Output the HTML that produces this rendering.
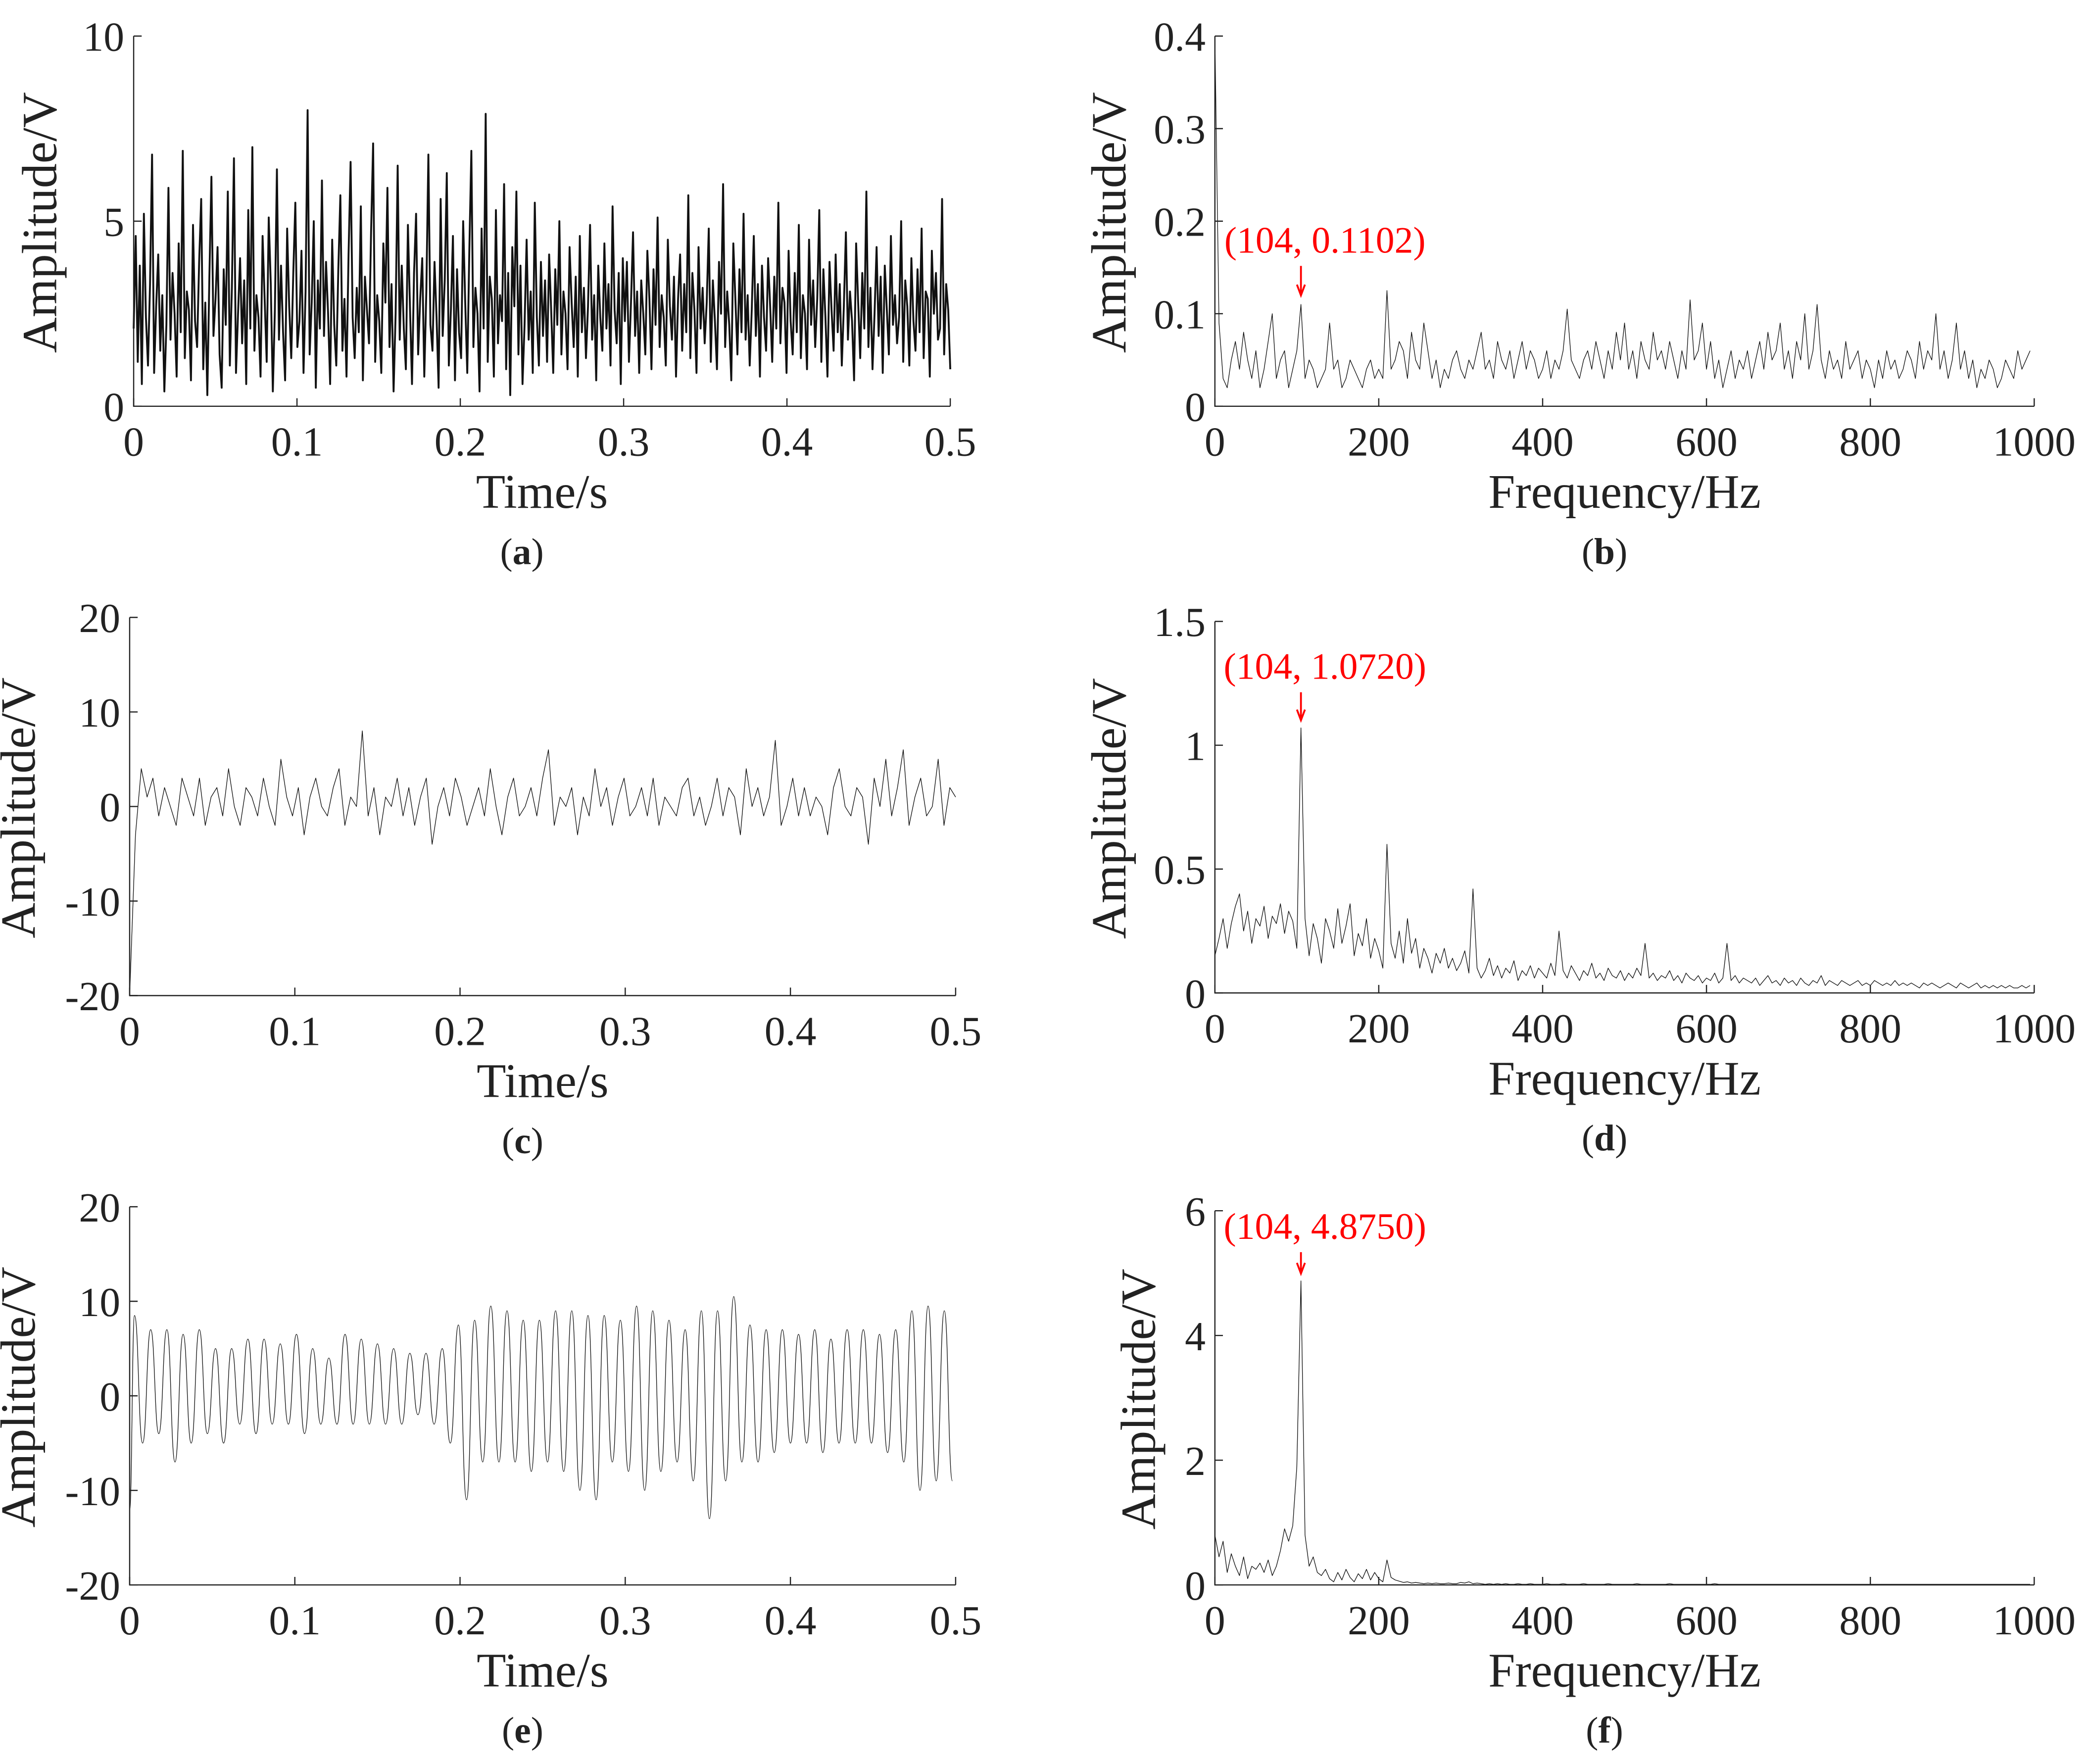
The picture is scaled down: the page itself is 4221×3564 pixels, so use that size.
<!DOCTYPE html>
<html><head><meta charset="utf-8"><style>
html,body{margin:0;padding:0;background:#fff;}
svg{display:block;}
text{font-family:"Liberation Serif",serif;fill:#222;}
</style></head><body>
<svg id="fig" xmlns="http://www.w3.org/2000/svg" width="4221" height="3564" viewBox="0 0 1563 1320" preserveAspectRatio="none"></svg>
<script>
const sigA = [2.1,4.6,1.2,3.8,0.6,5.2,2.4,1.1,3.3,6.8,0.9,2.7,4.1,1.5,3.0,0.4,2.2,5.9,1.8,3.6,
2.5,0.8,4.4,2.0,6.9,1.3,3.1,2.6,0.7,4.9,2.3,1.6,3.9,5.6,1.0,2.8,0.3,3.5,6.2,1.9,
2.9,4.3,1.4,0.5,3.7,2.2,5.8,1.1,3.2,6.7,0.9,2.5,4.0,1.7,3.4,0.6,5.3,2.1,7.0,1.5,
3.0,2.4,0.8,4.6,2.9,1.2,5.1,3.3,0.4,2.6,6.4,1.8,3.8,2.0,0.7,4.8,2.7,1.3,3.6,5.5,
1.6,2.3,4.2,0.9,3.1,8.0,1.4,2.8,5.0,0.5,3.4,2.1,6.1,1.9,3.9,2.5,0.6,4.5,2.2,1.1,
3.7,5.7,1.5,2.9,0.8,4.1,6.6,2.4,1.3,3.2,2.0,5.4,0.7,3.5,2.6,1.7,4.7,7.1,1.2,3.0,
2.3,0.9,4.4,2.8,5.9,1.6,3.3,0.4,2.5,6.5,1.8,3.8,2.1,1.0,4.9,2.7,0.6,3.6,5.2,1.4,
2.9,4.0,0.8,3.1,6.8,2.2,1.5,3.9,2.4,0.5,5.6,1.9,3.4,6.3,1.1,2.6,4.6,0.7,3.7,2.0,
1.3,5.0,2.8,0.9,4.2,6.9,1.6,3.2,2.5,0.4,4.8,2.1,7.9,1.2,3.5,2.9,0.8,5.3,1.7,3.0,
2.3,6.0,1.0,3.6,0.3,4.3,2.7,5.8,1.4,3.8,0.6,2.2,4.5,1.8,3.1,0.9,5.5,2.4,1.1,3.9,
1.9,3.4,1.2,4.1,2.6,0.9,3.7,2.2,5.0,1.4,3.1,2.5,1.0,4.3,2.8,1.6,3.5,0.8,4.6,2.0,
3.2,1.3,2.7,4.9,1.8,3.0,0.7,3.8,2.4,1.5,4.4,2.1,3.3,1.1,5.4,2.6,1.7,3.6,0.6,4.0,
2.3,3.9,1.2,2.8,4.7,1.9,3.1,0.9,3.4,2.5,1.4,4.2,2.9,1.0,3.7,2.2,5.1,1.6,3.0,2.4,
1.1,4.5,2.7,1.8,3.5,0.8,2.9,4.1,1.5,3.3,2.0,5.7,1.3,3.6,2.6,0.9,4.3,2.1,3.2,1.7,
2.8,4.8,1.2,3.4,2.3,1.0,3.9,2.5,6.0,1.6,3.1,2.2,0.7,4.4,2.9,1.4,3.7,2.0,5.2,1.8,
3.0,1.1,2.6,4.6,1.9,3.3,0.8,3.8,2.4,1.5,4.0,2.7,1.2,3.5,2.1,5.5,1.7,3.2,2.8,0.9,
4.2,2.3,1.4,3.6,2.0,4.9,1.3,3.0,2.5,1.0,4.5,2.2,3.4,1.6,2.9,5.3,1.2,3.7,2.4,0.8,
3.9,2.6,1.5,4.1,2.0,3.3,1.1,2.7,4.7,1.8,3.1,2.3,0.7,4.4,2.8,1.3,3.6,2.1,5.8,1.6,
3.2,1.0,2.5,4.3,1.9,3.5,0.9,3.8,2.6,1.4,4.6,2.2,3.0,1.7,2.4,5.0,1.2,3.4,2.7,1.1,
4.0,2.3,1.5,3.7,2.0,4.8,1.3,3.1,2.9,0.8,4.2,2.5,3.6,1.8,2.1,5.6,1.4,3.3,2.6,1.0];
const sigC = [-20,-3,4,1,3,-1,2,0,-2,3,1,-1,3,-2,1,2,-1,4,0,-2,2,1,-1,3,0,-2,5,1,-1,2,-3,1,3,0,-1,2,4,-2,1,0,
8,-1,2,-3,1,0,3,-1,2,-2,1,3,-4,0,2,-1,3,1,-2,0,2,-1,4,0,-3,1,3,-1,0,2,
-1,3,6,-2,1,0,2,-3,1,-1,4,0,2,-2,1,3,-1,0,2,-1,3,-2,1,0,-1,2,3,-1,1,-2,
0,3,-1,2,1,-3,4,0,2,-1,1,7,-2,0,3,-1,2,-1,1,0,-3,2,4,0,-1,2,1,-4,3,0,
5,-1,2,6,-2,1,3,-1,0,5,-2,2,1];
const peaksE = [8.5,7,7,6.5,7,5,5,6,6,5.5,6.5,5,4,6.5,6,5.5,5,4.5,4.5,5,7.5,8,9.5,9,8,8,9,9,8.5,8.5,8,9.5,9,8,7,9,9,10.5,7.5,7,7,6.5,7,6,7,7,6.5,7,9,9.5,9];
const troughsE = [-12,-5,-4,-7,-5,-4,-5,-3,-4,-3,-3,-4,-3,-3,-3,-3,-3,-3,-2,-3,-5,-11,-7,-7,-7,-8,-7,-8,-10,-11,-7,-8,-10,-8,-7,-9,-13,-9,-7,-7,-6,-5,-5,-6,-5,-5,-5,-6,-7,-10,-9];
const specB = [0.40,0.09,0.03,0.02,0.05,0.07,0.04,0.08,0.05,0.03,0.06,0.02,0.04,0.07,0.10,0.03,0.05,0.06,0.02,0.04,
0.06,0.11,0.03,0.05,0.04,0.02,0.03,0.04,0.09,0.04,0.05,0.02,0.03,0.05,0.04,0.03,0.02,0.04,0.05,0.03,
0.04,0.03,0.125,0.04,0.05,0.07,0.06,0.03,0.08,0.05,0.04,0.09,0.06,0.03,0.05,0.02,0.04,0.03,0.05,0.06,
0.04,0.03,0.05,0.04,0.06,0.08,0.04,0.05,0.03,0.07,0.05,0.04,0.06,0.03,0.05,0.07,0.04,0.06,0.05,0.03,
0.04,0.06,0.03,0.05,0.04,0.06,0.105,0.05,0.04,0.03,0.05,0.06,0.04,0.07,0.05,0.03,0.06,0.04,0.08,0.05,
0.09,0.04,0.06,0.03,0.07,0.05,0.04,0.08,0.05,0.06,0.04,0.07,0.05,0.03,0.06,0.04,0.115,0.05,0.06,0.09,
0.04,0.07,0.03,0.05,0.02,0.04,0.06,0.03,0.05,0.04,0.06,0.03,0.05,0.07,0.04,0.08,0.05,0.06,0.09,0.04,
0.06,0.03,0.07,0.05,0.10,0.04,0.06,0.11,0.05,0.03,0.06,0.04,0.05,0.03,0.07,0.04,0.05,0.06,0.03,0.05,
0.04,0.02,0.05,0.03,0.06,0.04,0.05,0.03,0.04,0.06,0.05,0.03,0.07,0.04,0.06,0.05,0.10,0.04,0.06,0.03,
0.05,0.09,0.04,0.06,0.03,0.05,0.02,0.04,0.03,0.05,0.04,0.02,0.03,0.05,0.04,0.03,0.06,0.04,0.05,0.06];
const specD = [0.15,0.22,0.30,0.18,0.28,0.35,0.40,0.25,0.33,0.20,0.30,0.27,0.35,0.22,0.31,0.28,0.36,0.24,0.33,0.29,
0.18,1.07,0.30,0.15,0.28,0.22,0.12,0.30,0.25,0.18,0.34,0.20,0.27,0.36,0.15,0.24,0.19,0.30,0.14,0.22,
0.17,0.10,0.60,0.20,0.14,0.25,0.12,0.30,0.16,0.22,0.10,0.18,0.14,0.08,0.16,0.12,0.18,0.10,0.14,0.09,
0.12,0.17,0.08,0.42,0.10,0.06,0.09,0.14,0.07,0.11,0.06,0.10,0.08,0.13,0.05,0.09,0.07,0.11,0.06,0.10,
0.08,0.06,0.12,0.07,0.25,0.09,0.06,0.11,0.08,0.05,0.09,0.07,0.12,0.06,0.08,0.05,0.10,0.07,0.06,0.09,
0.05,0.08,0.06,0.10,0.07,0.20,0.06,0.08,0.05,0.07,0.06,0.09,0.05,0.07,0.04,0.08,0.06,0.05,0.07,0.04,
0.06,0.05,0.08,0.04,0.06,0.20,0.05,0.07,0.04,0.06,0.05,0.04,0.06,0.03,0.05,0.07,0.04,0.05,0.03,0.06,
0.04,0.05,0.03,0.06,0.04,0.03,0.05,0.04,0.07,0.03,0.05,0.04,0.03,0.05,0.04,0.03,0.04,0.05,0.03,0.04,
0.03,0.05,0.04,0.03,0.04,0.03,0.05,0.03,0.04,0.03,0.04,0.03,0.02,0.04,0.03,0.04,0.03,0.02,0.03,0.04,
0.03,0.02,0.04,0.03,0.02,0.03,0.04,0.02,0.03,0.02,0.03,0.02,0.03,0.02,0.03,0.02,0.02,0.03,0.02,0.03];
const specF = [0.80,0.45,0.70,0.20,0.50,0.30,0.15,0.45,0.10,0.30,0.25,0.35,0.20,0.40,0.15,0.30,0.55,0.90,0.70,0.95,
1.90,4.875,0.80,0.30,0.45,0.20,0.15,0.25,0.10,0.05,0.20,0.08,0.25,0.12,0.05,0.18,0.10,0.25,0.08,0.20,
0.10,0.05,0.40,0.12,0.08,0.06,0.04,0.05,0.03,0.04,0.03,0.02,0.03,0.02,0.03,0.02,0.02,0.03,0.02,0.02,
0.04,0.03,0.05,0.02,0.03,0.02,0.01,0.02,0.01,0.02,0.01,0.02,0.01,0.01,0.02,0.01,0.01,0.02,0.01,0.01,
0.01,0.02,0.01,0.01,0.01,0.02,0.01,0.01,0.01,0.01,0.02,0.01,0.01,0.01,0.01,0.01,0.02,0.01,0.01,0.01,
0.01,0.01,0.01,0.02,0.01,0.01,0.01,0.01,0.01,0.01,0.01,0.02,0.01,0.01,0.01,0.01,0.01,0.01,0.01,0.01,
0.01,0.01,0.02,0.01,0.01,0.01,0.01,0.01,0.01,0.01,0.01,0.01,0.01,0.01,0.01,0.01,0.01,0.01,0.01,0.01,
0.01,0.01,0.01,0.01,0.01,0.01,0.01,0.01,0.01,0.01,0.01,0.01,0.01,0.01,0.01,0.01,0.01,0.01,0.01,0.01,
0.01,0.01,0.01,0.01,0.01,0.01,0.01,0.01,0.01,0.01,0.01,0.01,0.01,0.01,0.01,0.01,0.01,0.01,0.01,0.01,
0.01,0.01,0.01,0.01,0.01,0.01,0.01,0.01,0.01,0.01,0.01,0.01,0.01,0.01,0.01,0.01,0.01,0.01,0.01,0.01];
const timeTicks = [0,0.1,0.2,0.3,0.4,0.5];
const freqTicks = [0,200,400,600,800,1000];
const yTicksA = [0,5,10];
const yTicksB = [0,0.1,0.2,0.3,0.4];
const yTicksCE = [-20,-10,0,10,20];
const yTicksD = [0,0.5,1,1.5];
const yTicksF = [0,2,4,6];
const annB = "(104, 0.1102)", annD = "(104, 1.0720)", annF = "(104, 4.8750)";

const NS="http://www.w3.org/2000/svg";
const svg=document.getElementById('fig');
function mk(tag,attrs,parent){const e=document.createElementNS(NS,tag);for(const k in attrs)e.setAttribute(k,attrs[k]);(parent||svg).appendChild(e);return e;}

function panel(cfg){
  const g=mk('g',{});
  
  
  const sx=v=>cfg.x0+(v-cfg.xmin)/(cfg.xmax-cfg.xmin)*(cfg.x1-cfg.x0);
  const sy=v=>cfg.y0-(v-cfg.ymin)/(cfg.ymax-cfg.ymin)*(cfg.y0-cfg.y1);
  let d='';
  cfg.pts.forEach((p,i)=>{d+=(i?'L':'M')+sx(p[0]).toFixed(2)+' '+sy(p[1]).toFixed(2);});
  if(cfg.pathD) d=cfg.pathD(sx,sy);
  const ln=mk('path',{d:d,fill:'none',stroke:'#111','stroke-width':cfg.sw||0.5,'stroke-linejoin':'round'},g);
  
  
  const ax=mk('path',{d:`M${cfg.x0} ${cfg.y1}L${cfg.x0} ${cfg.y0}L${cfg.x1} ${cfg.y0}`,fill:'none',stroke:'#222','stroke-width':0.9},g);
  
  
  cfg.xt.forEach(v=>{
    const X=sx(v);
    mk('line',{x1:X,y1:cfg.y0,x2:X,y2:cfg.y0-6,stroke:'#222','stroke-width':0.9},g);
    const t=mk('text',{x:X,y:cfg.y0+37,'text-anchor':'middle','font-size':31},g);
    t.textContent=String(v);
    
    
  });
  cfg.yt.forEach(v=>{
    const Y=sy(v);
    mk('line',{x1:cfg.x0,y1:Y,x2:cfg.x0+6,y2:Y,stroke:'#222','stroke-width':0.9},g);
    const t=mk('text',{x:cfg.x0-7,y:Y+11,'text-anchor':'end','font-size':31},g);
    t.textContent=String(v);
    
    
  });
  const xl=mk('text',{x:(cfg.x0+cfg.x1)/2,y:cfg.y0+76,'text-anchor':'middle','font-size':36},g);
  xl.textContent=cfg.xlabel;
  
  
  const yc=(cfg.y0+cfg.y1)/2+1;
  const yl=mk('text',{x:cfg.ylx,y:yc,'text-anchor':'middle','font-size':37,transform:`rotate(-90 ${cfg.ylx} ${yc})`},g);
  yl.textContent='Amplitude/V';
  
  
  const cp=mk('text',{x:(cfg.x0+cfg.x1)/2-15,y:cfg.y0+118,'text-anchor':'middle','font-size':28},g);
  cp.innerHTML='(<tspan font-weight="bold">'+cfg.cap+'</tspan>)';
  
  
  if(cfg.ann){
    const X=sx(cfg.ann.f);
    const at=mk('text',{x:X+18,y:cfg.ann.ty,'text-anchor':'middle','font-size':28,style:'fill:#f00'},g);
    at.textContent=cfg.ann.text;
    
    
    const ay0=cfg.ann.ty+10, ay1=cfg.ann.ay1;
    const ar=mk('path',{d:`M${X} ${ay0}L${X} ${ay1}M${X-3} ${ay1-8}L${X} ${ay1}L${X+3} ${ay1-8}`,fill:'none',stroke:'#f00','stroke-width':1.4},g);
    
    
  }
}
const tPts=arr=>arr.map((v,i)=>[i*0.5/(arr.length-1),v]);
const fPts=arr=>arr.map((v,i)=>[i*5,v]);

panel({name:'panel-a',x0:100,x1:711,y0:304,y1:27,xmin:0,xmax:0.5,ymin:0,ymax:10,pts:tPts(sigA),sw:1.4,
  xt:timeTicks,yt:yTicksA,xlabel:'Time/s',ylx:42,cap:'a'});
panel({name:'panel-b',x0:909,x1:1522,y0:304,y1:27,xmin:0,xmax:1000,ymin:0,ymax:0.4,pts:fPts(specB),
  xt:freqTicks,yt:yTicksB,xlabel:'Frequency/Hz',ylx:842,cap:'b',
  ann:{f:105,v:specB[21],text:annB,ty:189,ay1:221}});
panel({name:'panel-c',x0:97,x1:715,y0:745,y1:462,xmin:0,xmax:0.5,ymin:-20,ymax:20,pts:tPts(sigC),
  xt:timeTicks,yt:yTicksCE,xlabel:'Time/s',ylx:26,cap:'c'});
panel({name:'panel-d',x0:909,x1:1522,y0:743,y1:465,xmin:0,xmax:1000,ymin:0,ymax:1.5,pts:fPts(specD),
  xt:freqTicks,yt:yTicksD,xlabel:'Frequency/Hz',ylx:842,cap:'d',
  ann:{f:105,v:specD[21],text:annD,ty:508,ay1:539}});
panel({name:'panel-e',x0:97,x1:715,y0:1186,y1:903,xmin:0,xmax:0.5,ymin:-20,ymax:20,pts:[],
  pathD:(sx,sy)=>{
    const n=peaksE.length, per=0.5/n; let d='M'+sx(0)+' '+sy(troughsE[0]);
    let prevT=0, prevV=troughsE[0];
    for(let i=0;i<n;i++){
      const tp=(i+0.3)*per, tt=Math.min(0.5,(i+0.8)*per);
      const nextTr=troughsE[Math.min(i+1,n-1)];
      [[tp,peaksE[i]],[tt,nextTr]].forEach(([t,v])=>{
        const h=(sx(t)-sx(prevT))*0.5;
        d+=`C${(sx(prevT)+h).toFixed(2)} ${sy(prevV).toFixed(2)} ${(sx(t)-h).toFixed(2)} ${sy(v).toFixed(2)} ${sx(t).toFixed(2)} ${sy(v).toFixed(2)}`;
        prevT=t; prevV=v;
      });
    }
    return d;
  },
  xt:timeTicks,yt:yTicksCE,xlabel:'Time/s',ylx:26,cap:'e'});
panel({name:'panel-f',x0:909,x1:1522,y0:1186,y1:906,xmin:0,xmax:1000,ymin:0,ymax:6,pts:fPts(specF),
  xt:freqTicks,yt:yTicksF,xlabel:'Frequency/Hz',ylx:864,cap:'f',
  ann:{f:105,v:specF[21],text:annF,ty:927,ay1:953}});
</script>
</body></html>
